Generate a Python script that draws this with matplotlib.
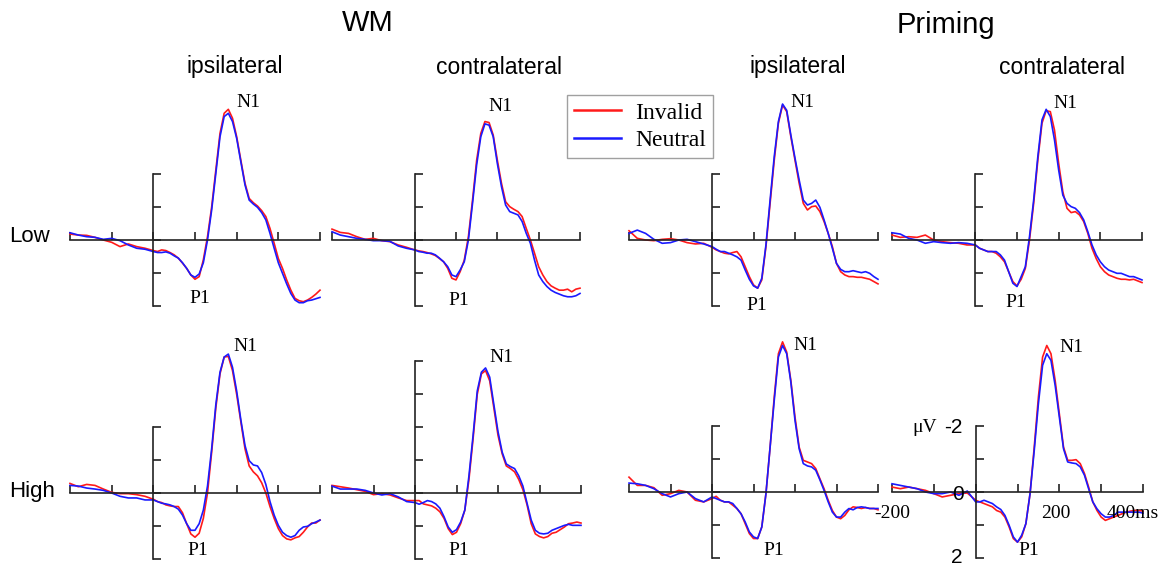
import matplotlib
matplotlib.use("Agg")
import matplotlib.pyplot as plt

W, H = 1166, 569

# time axis (ms): 20 ms steps in the baseline, 10 ms after stimulus
time_ms = list(range(-200, 0, 20)) + list(range(0, 401, 10))

# amplitudes in microvolts (negative = up)
wm_ipsi_low_inv = [-0.18, -0.15, -0.14, -0.08, 0, 0.07, 0.2, 0.12, 0.2, 0.25,
    0.32, 0.35, 0.30, 0.32, 0.38, 0.45, 0.55, 0.7, 0.86, 1.06, 1.19, 1.11, 0.6, -0.1, -1.0, -2.12,
    -3.23, -3.84, -3.96, -3.69, -3.13, -2.42, -1.72, -1.26, -1.13, -1.03, -0.89, -0.71, -0.35, 0.1,
    0.56, 0.86, 1.21, 1.52, 1.77, 1.84, 1.87, 1.82, 1.74, 1.64, 1.52]
wm_ipsi_low_neu = [-0.22, -0.15, -0.1, -0.08, -0.02, -0.05, 0.02, 0.15, 0.25, 0.28,
    0.35, 0.38, 0.38, 0.36, 0.4, 0.48, 0.55, 0.69, 0.86, 1.06, 1.13, 1.03, 0.69, 0, -0.91, -2.02,
    -3.13, -3.74, -3.84, -3.59, -3.08, -2.37, -1.67, -1.21, -1.09, -0.99, -0.83, -0.61, -0.2, 0.25,
    0.69, 1.01, 1.33, 1.62, 1.82, 1.9, 1.9, 1.84, 1.82, 1.78, 1.74]

wm_contra_low_inv = [-0.33, -0.23, -0.2, -0.1, -0.02, -0.05, 0.02, 0.05, 0.15, 0.22,
    0.3, 0.33, 0.35, 0.38, 0.42, 0.47, 0.56, 0.66, 0.86, 1.16, 1.21, 0.96, 0.61, -0.1, -1.21, -2.42,
    -3.23, -3.59, -3.56, -3.18, -2.42, -1.72, -1.16, -1.01, -0.93, -0.86, -0.71, -0.35, 0, 0.4,
    0.81, 1.06, 1.26, 1.39, 1.46, 1.52, 1.52, 1.49, 1.57, 1.49, 1.46]
wm_contra_low_neu = [-0.25, -0.15, -0.1, -0.05, -0.02, 0.02, 0.02, 0.04, 0.18, 0.25,
    0.3, 0.35, 0.37, 0.4, 0.4, 0.45, 0.55, 0.66, 0.81, 1.06, 1.11, 0.91, 0.66, 0, -1.11, -2.28,
    -3.13, -3.52, -3.48, -3.13, -2.32, -1.62, -1.06, -0.86, -0.81, -0.76, -0.56, -0.2, 0.1, 0.61,
    1.06, 1.26, 1.41, 1.52, 1.59, 1.64, 1.69, 1.72, 1.72, 1.69, 1.62]

pr_ipsi_low_inv = [-0.28, -0.05, 0, 0.02, -0.02, -0.04, 0, 0.08, 0.12, 0.1,
    0.22, 0.3, 0.35, 0.4, 0.42, 0.38, 0.35, 0.51, 0.81, 1.11, 1.36, 1.46, 1.21, 0.2, -1.11, -2.42,
    -3.54, -4.09, -3.89, -3.13, -2.42, -1.72, -1.11, -0.91, -1.01, -1.03, -0.86, -0.56, -0.2, 0.2,
    0.71, 0.96, 1.06, 1.11, 1.11, 1.13, 1.13, 1.16, 1.19, 1.26, 1.33]
pr_ipsi_low_neu = [-0.2, -0.3, -0.2, -0.02, 0.1, 0.08, 0, -0.02, 0.05, 0.12,
    0.2, 0.28, 0.35, 0.35, 0.4, 0.45, 0.51, 0.61, 0.91, 1.19, 1.39, 1.46, 1.16, 0.15, -1.21, -2.53,
    -3.59, -4.12, -3.93, -3.18, -2.48, -1.82, -1.21, -1.06, -1.11, -1.21, -0.99, -0.61, -0.2, 0.25,
    0.71, 0.89, 0.96, 0.96, 0.93, 0.96, 0.99, 0.96, 1.01, 1.11, 1.19]

pr_contra_low_inv = [-0.15, -0.08, -0.1, -0.08, -0.15, 0, 0.05, 0.08, 0.1, 0.15,
    0.15, 0.25, 0.3, 0.35, 0.35, 0.4, 0.51, 0.66, 0.96, 1.26, 1.39, 1.19, 0.86, 0, -1.11, -2.42,
    -3.54, -3.92, -3.89, -3.33, -2.32, -1.46, -0.96, -0.83, -0.86, -0.76, -0.56, -0.2, 0.25, 0.56,
    0.81, 0.96, 1.06, 1.11, 1.16, 1.19, 1.19, 1.21, 1.19, 1.24, 1.29]
pr_contra_low_neu = [-0.22, -0.18, -0.05, 0, 0.1, 0.05, 0.08, 0.1, 0.08, 0.1,
    0.15, 0.25, 0.3, 0.35, 0.35, 0.35, 0.45, 0.61, 0.96, 1.31, 1.41, 1.11, 0.81, -0.1, -1.21, -2.53,
    -3.64, -3.96, -3.74, -3.03, -2.12, -1.36, -1.11, -1.01, -0.96, -0.83, -0.61, -0.25, 0.15, 0.45,
    0.66, 0.81, 0.91, 0.96, 1.01, 1.01, 1.06, 1.11, 1.11, 1.16, 1.21]

wm_ipsi_high_inv = [-0.29, -0.19, -0.26, -0.23, -0.12, -0.02, 0.02, 0.02, 0.05, 0.1,
    0.19, 0.26, 0.29, 0.36, 0.39, 0.41, 0.41, 0.6, 0.93, 1.24, 1.34, 1.22, 0.77, 0, -1.24, -2.58,
    -3.61, -4.12, -4.14, -3.71, -2.99, -2.16, -1.34, -0.82, -0.64, -0.52, -0.31, 0, 0.41, 0.77,
    1.08, 1.29, 1.39, 1.42, 1.36, 1.32, 1.19, 1.03, 0.91, 0.91, 0.82]
wm_ipsi_high_neu = [-0.23, -0.21, -0.15, -0.12, -0.08, 0, 0.1, 0.15, 0.15, 0.21,
    0.21, 0.26, 0.31, 0.33, 0.36, 0.41, 0.49, 0.67, 0.93, 1.13, 1.13, 0.93, 0.52, -0.21, -1.34, -2.68,
    -3.66, -4.12, -4.21, -3.81, -3.09, -2.22, -1.44, -0.98, -0.85, -0.82, -0.62, -0.26, 0.26, 0.67,
    0.98, 1.19, 1.29, 1.34, 1.29, 1.13, 1.03, 1.01, 0.93, 0.88, 0.82]

wm_contra_high_inv = [-0.23, -0.19, -0.15, -0.1, -0.05, 0.05, 0.02, 0.06, 0.15, 0.23,
    0.23, 0.23, 0.33, 0.36, 0.39, 0.46, 0.57, 0.77, 1.08, 1.26, 1.19, 0.93, 0.52, -0.41, -1.65, -2.99,
    -3.61, -3.71, -3.4, -2.58, -1.75, -1.19, -0.82, -0.74, -0.64, -0.41, -0.1, 0.36, 0.93, 1.24,
    1.32, 1.36, 1.32, 1.22, 1.19, 1.11, 1.03, 0.93, 0.91, 0.88, 0.91]
wm_contra_high_neu = [-0.21, -0.12, -0.12, -0.12, -0.08, 0, 0.06, 0.02, 0.12, 0.26,
    0.29, 0.34, 0.29, 0.23, 0.26, 0.33, 0.46, 0.72, 1.03, 1.19, 1.11, 0.88, 0.52, -0.52, -1.75, -3.09,
    -3.66, -3.79, -3.51, -2.68, -1.86, -1.24, -0.88, -0.8, -0.74, -0.52, -0.21, 0.31, 0.82, 1.13,
    1.22, 1.24, 1.22, 1.13, 1.08, 1.03, 0.98, 0.95, 0.98, 0.98, 0.98]

pr_ipsi_high_inv = [-0.45, -0.2, -0.2, -0.13, 0.1, 0.05, -0.05, 0, 0.25, 0.3,
    0.2, 0.13, 0.25, 0.3, 0.3, 0.4, 0.5, 0.66, 0.96, 1.26, 1.41, 1.41, 1.06, 0.05, -1.36, -2.88,
    -4.19, -4.55, -4.24, -3.38, -2.27, -1.36, -0.96, -0.91, -0.86, -0.71, -0.4, -0.1, 0.25, 0.56,
    0.76, 0.81, 0.71, 0.54, 0.45, 0.47, 0.5, 0.47, 0.5, 0.5, 0.54]
pr_ipsi_high_neu = [-0.27, -0.25, -0.2, -0.1, 0.05, 0.15, 0.05, 0, 0.2, 0.3,
    0.15, 0.2, 0.25, 0.3, 0.3, 0.35, 0.5, 0.66, 0.91, 1.21, 1.36, 1.41, 1.06, 0.05, -1.36, -2.78,
    -4.09, -4.44, -4.19, -3.33, -2.17, -1.31, -0.86, -0.79, -0.76, -0.66, -0.37, -0.05, 0.3, 0.61,
    0.76, 0.76, 0.61, 0.5, 0.54, 0.47, 0.45, 0.47, 0.5, 0.5, 0.5]

pr_contra_high_inv = [-0.15, -0.1, -0.15, -0.1, -0.05, 0.05, 0.15, 0.1, 0.05, 0.03,
    0.25, 0.3, 0.35, 0.4, 0.45, 0.56, 0.61, 0.76, 1.06, 1.41, 1.52, 1.36, 0.96, 0.05, -1.36, -2.88,
    -4.09, -4.44, -4.19, -3.38, -2.37, -1.36, -0.96, -0.96, -0.98, -0.86, -0.56, -0.15, 0.3, 0.56,
    0.76, 0.86, 0.81, 0.76, 0.71, 0.66, 0.61, 0.58, 0.56, 0.56, 0.58]
pr_contra_high_neu = [-0.25, -0.2, -0.15, -0.1, 0, 0.05, 0.05, 0, 0.1, -0.03,
    0.3, 0.3, 0.25, 0.3, 0.35, 0.45, 0.53, 0.71, 1.01, 1.36, 1.52, 1.31, 0.96, 0.05, -1.26, -2.68,
    -3.84, -4.19, -3.99, -3.23, -2.27, -1.31, -0.91, -0.88, -0.86, -0.76, -0.51, -0.1, 0.3, 0.51,
    0.66, 0.76, 0.76, 0.71, 0.61, 0.61, 0.61, 0.61, 0.61, 0.61, 0.64]

# panel pixel frames: x at -200 ms, x at 400 ms, y of the zero line, top of the uV bar
panels = [
    (70, 320, 240, -2, wm_ipsi_low_inv, wm_ipsi_low_neu, (228, -4.18), (111, 1.76)),
    (332, 580, 240, -2, wm_contra_low_inv, wm_contra_low_neu, (207, -4.06), (106, 1.82)),
    (629, 878, 240, -2, pr_ipsi_low_inv, pr_ipsi_low_neu, (219, -4.18), (108, 2.0)),
    (892, 1142, 240, -2, pr_contra_low_inv, pr_contra_low_neu, (216, -4.15), (96, 1.9)),
    (70, 320, 493, -2, wm_ipsi_high_inv, wm_ipsi_high_neu, (221, -4.45), (106, 1.73)),
    (332, 581, 493, -4, wm_contra_high_inv, wm_contra_high_neu, (207, -4.12), (106, 1.73)),
    (629, 878, 492, -2, pr_ipsi_high_inv, pr_ipsi_high_neu, (226, -4.45), (149, 1.76)),
    (892, 1143, 492, -2, pr_contra_high_inv, pr_contra_high_neu, (228, -4.39), (127, 1.76)),
]

PX_UV = 33.0
Y_TOP, Y_BOT = -4.8, 2.6
RED = "#ff1a1a"
BLUE = "#1a1aff"
AXC = "#222222"
serif = ["Liberation Serif", "DejaVu Serif"]
sans = ["Liberation Sans", "DejaVu Sans"]

fig = plt.figure(figsize=(W / 100, H / 100), dpi=100)

axes = []
for x0, x1, y0, vtop, inv, neu, n1, p1 in panels:
    bottom_px = y0 + Y_BOT * PX_UV
    height_px = (Y_BOT - Y_TOP) * PX_UV
    ax = fig.add_axes([x0 / W, 1 - bottom_px / H, (x1 - x0) / W, height_px / H])
    ax.set_xlim(-200, 400)
    ax.set_ylim(Y_BOT, Y_TOP)
    ax.patch.set_visible(False)
    for s in ["top", "right"]:
        ax.spines[s].set_visible(False)
    ax.spines["left"].set_position(("data", 0))
    ax.spines["bottom"].set_position(("data", 0))
    ax.spines["left"].set_bounds(vtop, 2)
    ax.spines["bottom"].set_bounds(-200, 400)
    for s in ["left", "bottom"]:
        ax.spines[s].set_color(AXC)
        ax.spines[s].set_linewidth(1.2)
    ax.set_xticks(range(-200, 401, 100))
    ax.set_yticks(range(vtop, 3))
    ax.tick_params(direction="in", length=6, width=1.2, color=AXC,
                   labelbottom=False, labelleft=False)
    ax.plot(time_ms, inv, color=RED, lw=1.2, clip_on=False, label="Invalid")
    ax.plot(time_ms, neu, color=BLUE, lw=1.2, clip_on=False, label="Neutral")
    ax.text(n1[0], n1[1], "N1", family=serif, fontsize=14, ha="center", va="center")
    ax.text(p1[0], p1[1], "P1", family=serif, fontsize=14, ha="center", va="center")
    axes.append(ax)

# scale labels on the last panel
ax8 = axes[7]
ax8.text(-200, 0.64, "-200", family=serif, fontsize=14, ha="center", va="center")
ax8.text(192, 0.64, "200", family=serif, fontsize=14, ha="center", va="center")
ax8.text(313, 0.64, "400ms", family=serif, fontsize=14, ha="left", va="center")
ax8.text(-123, -1.94, "\u03bcV", family=serif, fontsize=14, ha="center", va="center")
ax8.text(-53, -1.94, "-2", family=sans, fontsize=15, ha="center", va="center")
ax8.text(-43, 0.09, "0", family=sans, fontsize=15, ha="center", va="center")
ax8.text(-46, 1.97, "2", family=sans, fontsize=15, ha="center", va="center")

def fx(px):
    return px / W

def fy(py):
    return 1 - py / H

fig.text(fx(368), fy(23), "WM", family=sans, fontsize=21, ha="center", va="center")
fig.text(fx(946), fy(25), "Priming", family=sans, fontsize=21, ha="center", va="center")
for xc, lab in [(235, "ipsilateral"), (499, "contralateral"), (798, "ipsilateral"), (1062, "contralateral")]:
    fig.text(fx(xc), fy(67), lab, family=sans, fontsize=16.5, ha="center", va="center")
fig.text(fx(9), fy(236), "Low", family=sans, fontsize=16, ha="left", va="center")
fig.text(fx(9), fy(491), "High", family=sans, fontsize=16, ha="left", va="center")

h, l = axes[0].get_legend_handles_labels()
leg = fig.legend(h, l, loc="upper left", bbox_to_anchor=(fx(567), fy(95)),
                 prop={"family": serif, "size": 17}, frameon=True, fancybox=False,
                 handlelength=2.0, borderpad=0.3, labelspacing=0.25, handletextpad=0.6,
                 borderaxespad=0)
leg.get_frame().set_edgecolor("#888888")
leg.get_frame().set_linewidth(1.0)
for line in leg.get_lines():
    line.set_linewidth(1.8)

fig.savefig("out.png", dpi=100)
